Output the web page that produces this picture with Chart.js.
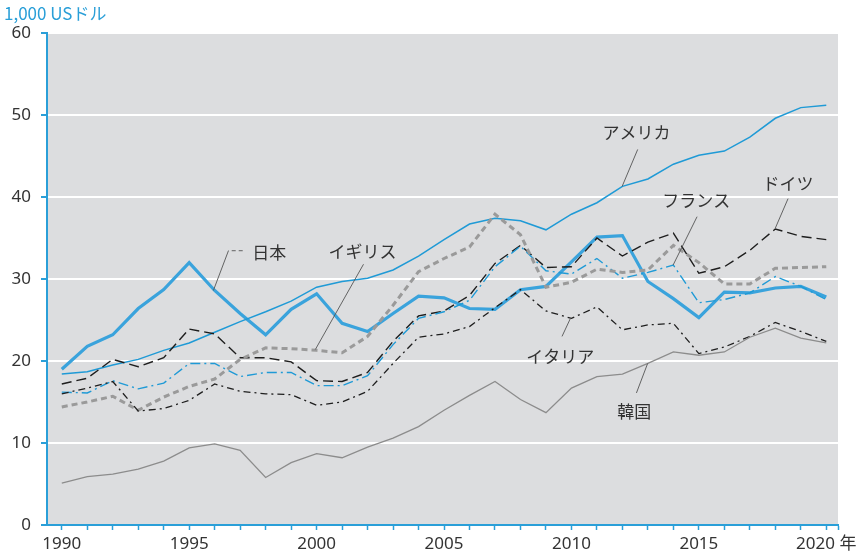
<!DOCTYPE html>
<html>
<head>
<meta charset="utf-8">
<script src="https://cdn.jsdelivr.net/npm/chart.js@4.4.0/dist/chart.umd.min.js"></script>
<style>
  body { margin: 0; background: #fff; }
  #wrap { width: 866px; height: 557px; position: relative; }
</style>
</head>
<body>
<div id="wrap"><canvas id="gdpChart"></canvas></div>
<script>
const years = Array.from({length: 31}, (_, i) => 1990 + i);

const usa     = [18.4,18.7,19.5,20.2,21.3,22.2,23.5,24.8,26.0,27.3,29.0,29.7,30.1,31.1,32.8,34.8,36.7,37.4,37.1,36.0,37.9,39.3,41.3,42.2,44.0,45.1,45.6,47.3,49.6,50.9,51.2];
const japan   = [19.0,21.8,23.2,26.4,28.7,32.0,28.6,25.8,23.2,26.3,28.2,24.6,23.6,25.8,27.9,27.7,26.4,26.3,28.7,29.1,32.1,35.1,35.3,29.7,27.6,25.3,28.4,28.3,28.9,29.1,27.8];
const germany = [17.2,17.9,20.2,19.3,20.4,23.9,23.3,20.4,20.4,19.9,17.6,17.5,18.6,22.4,25.5,26.1,28.0,31.9,34.1,31.4,31.5,35.0,32.8,34.5,35.6,30.7,31.5,33.5,36.1,35.2,34.8];
const france  = [16.2,16.1,17.6,16.6,17.3,19.7,19.7,18.1,18.6,18.6,17.0,17.0,18.2,22.0,25.2,26.0,27.4,31.5,34.0,31.0,30.6,32.5,30.1,30.8,31.7,27.1,27.5,28.3,30.3,29.1,27.5];
const uk      = [14.4,15.0,15.7,14.0,15.6,16.9,17.8,20.2,21.6,21.5,21.3,21.0,23.0,26.8,30.9,32.5,33.9,37.9,35.4,29.0,29.6,31.2,30.8,31.1,34.1,32.0,29.4,29.4,31.3,31.4,31.5];
const italy   = [16.0,16.7,17.5,13.9,14.2,15.2,17.2,16.3,16.0,15.9,14.6,15.0,16.3,19.7,22.9,23.3,24.2,26.5,28.7,26.1,25.2,26.6,23.8,24.4,24.6,20.9,21.7,23.0,24.7,23.6,22.4];
const korea   = [5.1,5.9,6.2,6.8,7.8,9.4,9.9,9.1,5.8,7.6,8.7,8.2,9.5,10.6,12.0,14.0,15.8,17.5,15.3,13.7,16.7,18.1,18.4,19.7,21.1,20.7,21.1,22.9,24.0,22.8,22.2];

const yTicks = [0, 10, 20, 30, 40, 50, 60];
const unitLabel = '1,000 USドル';

const BLUE = '#2a9fd8';

// label text + leader line, in data units
const callouts = [
    { text: '日本',     at: [1998.14, 33.2], line: [[1997.1, 33.45], [1996.54, 33.45], [1995.95, 28.6]], dashFirst: true },
    { text: 'イギリス', at: [2001.8, 33.4],  line: [[2001.84, 31.8], [1999.95, 21.4]] },
    { text: 'アメリカ', at: [2012.55, 47.8], line: [[2012.6, 45.8], [2011.99, 41.3]] },
    { text: 'ドイツ',   at: [2018.5, 41.7],  line: [[2018.5, 39.8], [2018.0, 36.2]] },
    { text: 'フランス', at: [2014.9, 39.55], line: [[2014.93, 37.6], [2013.99, 31.7]] },
    { text: 'イタリア', at: [2009.56, 20.5], line: [[2009.96, 25.2], [2009.63, 23.0]] },
    { text: '韓国',     at: [2012.46, 13.8], line: [[2012.99, 19.7], [2012.55, 16.1]] }
];

const toXY = arr => arr.map((v, i) => ({x: years[i], y: v}));

const plotBackground = {
    id: 'plotBackground',
    beforeDraw(chart) {
        const {ctx, chartArea: a} = chart;
        ctx.save();
        ctx.fillStyle = '#dcdddf';
        ctx.fillRect(a.left, a.top, a.right - a.left, a.bottom - a.top);
        ctx.restore();
    }
};

const labels = {
    id: 'labels',
    afterDatasetsDraw(chart) {
        const {ctx, scales: {x, y}} = chart;
        ctx.save();
        ctx.strokeStyle = '#555';
        ctx.lineWidth = 0.9;
        callouts.forEach(c => {
            const pts = c.line.map(p => [x.getPixelForValue(p[0]), y.getPixelForValue(p[1])]);
            if (c.dashFirst) {
                ctx.setLineDash([4, 3]);
                ctx.beginPath(); ctx.moveTo(pts[0][0], pts[0][1]); ctx.lineTo(pts[1][0], pts[1][1]); ctx.stroke();
                ctx.setLineDash([]);
                ctx.beginPath(); ctx.moveTo(pts[1][0], pts[1][1]); ctx.lineTo(pts[2][0], pts[2][1]); ctx.stroke();
            } else {
                ctx.beginPath();
                pts.forEach((p, i) => i ? ctx.lineTo(p[0], p[1]) : ctx.moveTo(p[0], p[1]));
                ctx.stroke();
            }
            ctx.fillStyle = '#333';
            ctx.font = '17px "Noto Sans CJK JP"';
            ctx.textAlign = 'center';
            ctx.textBaseline = 'middle';
            ctx.fillText(c.text, x.getPixelForValue(c.at[0]), y.getPixelForValue(c.at[1]));
        });
        // unit label above the y axis
        ctx.fillStyle = BLUE;
        ctx.font = '17px "Noto Sans CJK JP"';
        ctx.textAlign = 'left';
        ctx.textBaseline = 'middle';
        ctx.fillText(unitLabel, 4, 14);
        ctx.restore();
    }
};

const ds = (label, data, color, width, dash) => ({
    label, data: toXY(data), borderColor: color, borderWidth: width,
    borderDash: dash || [], pointRadius: 0, tension: 0, fill: false
});

new Chart(document.getElementById('gdpChart'), {
    type: 'line',
    data: {
        datasets: [
            ds('韓国', korea, '#8c8c8c', 1.3),
            ds('イタリア', italy, '#1e1e1e', 1.3, [7, 4, 2, 4]),
            ds('イギリス', uk, '#9a9a9a', 3, [6, 4]),
            ds('フランス', france, '#1f9ad6', 1.4, [10, 4, 2, 4]),
            ds('ドイツ', germany, '#1e1e1e', 1.4, [10, 5]),
            ds('アメリカ', usa, '#1f9ad6', 1.5),
            ds('日本', japan, '#3aa3dc', 3.2)
        ]
    },
    options: {
        responsive: true, maintainAspectRatio: false, animation: false,
        layout: { padding: { top: 33, right: 28, left: 0, bottom: 0 } },
        plugins: { legend: { display: false }, tooltip: { enabled: false } },
        scales: {
            x: {
                type: 'linear', min: 1989.42, max: 2020.46,
                afterBuildTicks: s => { s.ticks = years.concat([2020.46]).map(v => ({value: v})); },
                afterFit: s => { s.height = 32; },
                ticks: {
                    autoSkip: false, maxRotation: 0, padding: 4, color: '#333',
                    font: { family: '"Noto Sans", "Noto Sans CJK JP"', size: 17 },
                    callback: v => v % 5 === 0 ? (v === 2020 ? '2020 年' : String(v)) : ''
                },
                grid: { drawOnChartArea: false, tickColor: BLUE, tickLength: 5, tickWidth: 1.5 },
                border: { color: BLUE, width: 2 }
            },
            y: {
                min: 0, max: 60,
                afterBuildTicks: s => { s.ticks = yTicks.map(v => ({value: v})); },
                afterFit: s => { s.width = 47; },
                ticks: {
                    padding: 10, color: '#333',
                    font: { family: '"Noto Sans"', size: 17 }
                },
                grid: { color: '#ffffff', lineWidth: 2, tickColor: BLUE, tickLength: 6, tickWidth: 2 },
                border: { color: BLUE, width: 2 }
            }
        }
    },
    plugins: [plotBackground, labels]
});
</script>
</body>
</html>
